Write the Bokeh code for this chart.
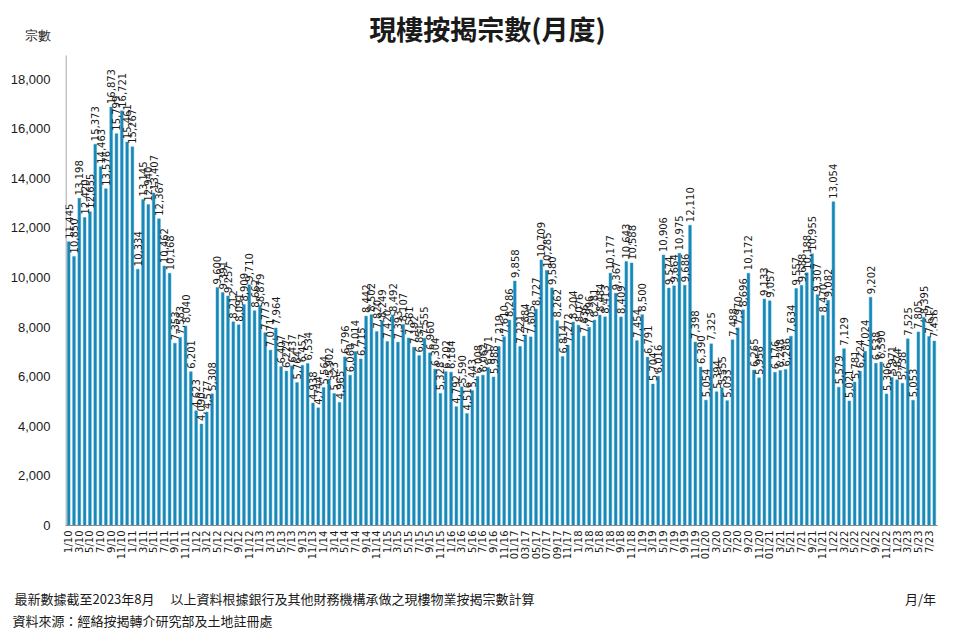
import math
from bokeh.plotting import figure
from bokeh.models import (Range1d, FixedTicker, NumeralTickFormatter, ColumnDataSource,
                          LinearAxis, Label)
from bokeh.core.properties import value
from bokeh.embed import file_html
from bokeh.resources import INLINE

# Monthly values Jan 2010 - Aug 2023
v2010 = [11445, 10850, 13198, 12420, 12655, 15373, 14463, 13576, 16873, 15799, 16721, 15461]
v2011 = [15267, 10334, 13145, 12940, 13407, 12367, 10462, 10168, 7353, 7583, 8040, 6201]
v2012 = [4623, 4090, 4577, 5308, 9600, 9391, 9257, 8212, 8091, 8909, 9710, 8662]
v2013 = [8879, 7773, 7071, 7964, 6407, 6227, 6437, 5764, 6457, 6534, 4938, 4744]
v2014 = [5564, 5902, 5323, 4965, 6796, 6060, 7014, 6715, 8442, 8502, 7820, 8249]
v2015 = [7420, 8492, 7393, 8107, 7561, 7192, 6851, 7555, 6960, 6304, 5328, 6202]
v2016 = [6184, 4792, 5590, 4516, 5443, 6008, 6062, 6371, 5988, 7219, 7610, 8286]
v2017 = [9858, 7221, 7684, 7605, 8727, 10709, 10285, 9580, 8262, 6814, 7272, 8204]
v2018 = [8076, 7636, 7996, 8281, 8484, 8413, 10177, 9367, 8409, 10643, 10588, 7454]
v2019 = [8500, 6791, 5704, 6016, 10906, 9574, 9664, 10975, 9686, 12110, 7398, 6390]
v2020 = [5054, 7325, 5394, 5555, 5033, 7488, 7970, 8696, 10172, 6265, 5956, 9133]
v2021 = [9057, 6176, 6248, 6286, 7634, 9557, 9688, 10188, 10955, 9307, 8470, 9082]
v2022 = [13054, 5579, 7129, 5021, 5781, 6224, 7024, 9202, 6538, 6590, 5306, 5971]
v2023 = [5874, 5738, 7525, 5053, 7805, 8395, 7617, 7436]

values = (v2010 + v2011 + v2012 + v2013 + v2014 + v2015 + v2016 + v2017 +
          v2018 + v2019 + v2020 + v2021 + v2022 + v2023)

tick_labels = [
    "1/10", "3/10", "5/10", "7/10", "9/10", "11/10",
    "1/11", "3/11", "5/11", "7/11", "9/11", "11/11",
    "1/12", "3/12", "5/12", "7/12", "9/12", "11/12",
    "1/13", "3/13", "5/13", "7/13", "9/13", "11/13",
    "1/14", "3/14", "5/14", "7/14", "9/14", "11/14",
    "1/15", "3/15", "5/15", "7/15", "9/15", "11/15",
    "1/16", "3/16", "5/16", "7/16", "9/16", "11/16",
    "01/17", "03/17", "05/17", "07/17", "09/17", "11/17",
    "1/18", "3/18", "5/18", "7/18", "9/18", "11/18",
    "1/19", "3/19", "5/19", "7/19", "9/19", "11/19",
    "01/20", "3/20", "5/20", "7/20", "9/20", "11/20",
    "01/21", "3/21", "5/21", "7/21", "9/21", "11/21",
    "1/22", "3/22", "5/22", "7/22", "9/22", "11/22",
    "1/23", "3/23", "5/23", "7/23",
]
y_ticks = [0, 2000, 4000, 6000, 8000, 10000, 12000, 14000, 16000, 18000]

title_text = "現樓按揭宗數(月度)"
y_unit = "宗數"
x_unit = "月/年"
note1a = "最新數據截至2023年8月"
note1b = "以上資料根據銀行及其他財務機構承做之現樓物業按揭宗數計算"
note2 = "資料來源：經絡按揭轉介研究部及土地註冊處"

# ---- layout constants (pixels)
W, H = 965, 634
FRAME_LEFT, FRAME_RIGHT = 65, 937
FRAME_BOTTOM = 525          # canvas y of the zero line
AXIS_TOP_PX = 55            # canvas y where the value axis ends
Y_AXIS_END = 18950          # value at AXIS_TOP_PX
px_per_unit = (FRAME_BOTTOM - AXIS_TOP_PX) / Y_AXIS_END
Y_RANGE_END = FRAME_BOTTOM / px_per_unit      # frame reaches canvas top
Y_UNIT_POS = round((FRAME_BOTTOM - 35) / px_per_unit)
X_START, X_END = -0.6, 163.6

CJK = "Noto Sans CJK TC"
TXT = "#1a1a1a"

xs = list(range(len(values)))
src = ColumnDataSource(dict(x=xs, top=values, lab=[f"{v:,}" for v in values]))

p = figure(width=W, height=H, x_range=Range1d(X_START, X_END), y_range=Range1d(0, Y_RANGE_END),
           output_backend="svg", toolbar_location=None,
           min_border_left=FRAME_LEFT, min_border_right=W - FRAME_RIGHT, min_border_top=0,
           min_border_bottom=H - FRAME_BOTTOM)
p.extra_x_ranges = {"px": Range1d(FRAME_LEFT, FRAME_RIGHT)}
p.outline_line_color = None
p.xgrid.visible = False
p.ygrid.visible = False

# value axis line (ends at the 18,950 level like the original)
p.segment(x0=[X_START + 0.1], y0=[0], x1=[X_START + 0.1], y1=[Y_AXIS_END], line_color="#8c8c8c", line_width=1)

p.vbar(x="x", top="top", width=0.52, source=src, fill_color="#1787b7", line_color="#3fa3cc", line_width=0.5)
p.text(x="x", y="top", text="lab", source=src, angle=math.pi / 2, text_align="left",
       text_baseline="middle", y_offset=-3, text_font=value("DejaVu Sans"),
       text_font_size="10px", text_color=TXT)

# title inside the (extended) frame
p.add_layout(Label(x=487 - FRAME_LEFT, y=FRAME_BOTTOM - 28, x_units="screen", y_units="screen",
                   text=title_text, text_font=CJK, text_font_size="27px", text_font_style="bold",
                   text_align="center", text_baseline="middle", text_color=TXT))

# x axis
tick_pos = list(range(0, len(values), 2))
p.xaxis.ticker = FixedTicker(ticks=tick_pos)
p.xaxis.major_label_overrides = {i: t for i, t in zip(tick_pos, tick_labels)}
p.xaxis.major_label_orientation = math.pi / 2
p.xaxis.major_label_text_font = "DejaVu Sans"
p.xaxis.major_label_text_font_size = "10px"
p.xaxis.major_label_text_color = TXT
p.xaxis.major_tick_line_color = None
p.xaxis.minor_tick_line_color = None
p.xaxis.major_tick_out = 0
p.xaxis.major_tick_in = 0
p.xaxis.major_label_standoff = 5
p.xaxis.axis_line_color = "#8c8c8c"

# y axis (with the unit label on top)
p.yaxis.ticker = FixedTicker(ticks=y_ticks + [Y_UNIT_POS])
p.yaxis.formatter = NumeralTickFormatter(format="0,0")
p.yaxis.major_label_overrides = {Y_UNIT_POS: y_unit}
p.yaxis.major_label_text_font = "Liberation Sans"
p.yaxis.major_label_text_font_size = "13px"
p.yaxis.major_label_text_color = TXT
p.yaxis.major_tick_line_color = None
p.yaxis.minor_tick_line_color = None
p.yaxis.major_tick_out = 0
p.yaxis.major_tick_in = 0
p.yaxis.major_label_standoff = 15
p.yaxis.axis_line_color = None


def note_axis(ticks, labels, standoff):
    ax = LinearAxis(x_range_name="px", ticker=FixedTicker(ticks=ticks),
                    major_label_overrides={t: s for t, s in zip(ticks, labels)})
    ax.axis_line_color = None
    ax.major_tick_line_color = None
    ax.minor_tick_line_color = None
    ax.major_tick_out = 0
    ax.major_tick_in = 0
    ax.major_label_standoff = standoff
    ax.major_label_text_font = CJK
    ax.major_label_text_font_size = "13px"
    ax.major_label_text_color = TXT
    p.add_layout(ax, "below")


note_axis([84, 352, 920], [note1a, note1b, x_unit], 26)
note_axis([142], [note2], 0)

open("out.html", "w").write(file_html(p, INLINE))
